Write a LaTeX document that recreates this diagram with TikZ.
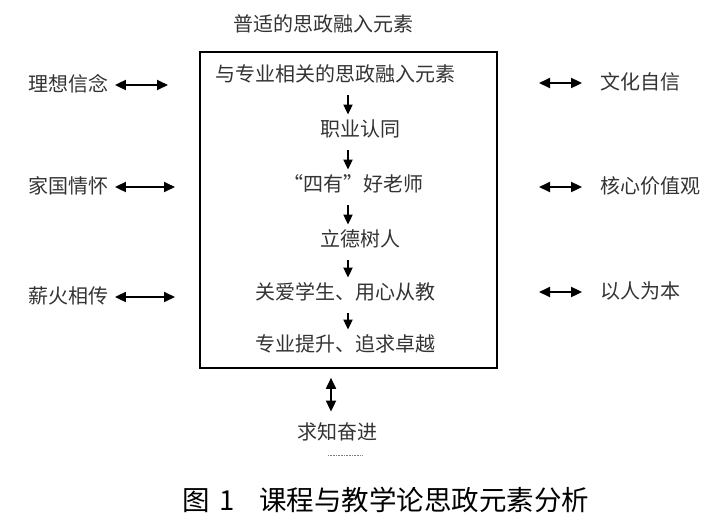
\documentclass[tikz,border=0pt]{standalone}
\usepackage{fontspec}
\setmainfont{Noto Sans CJK SC}
\usetikzlibrary{arrows.meta,positioning}

\begin{document}
\begin{tikzpicture}[x=1pt,y=-1pt,>={Triangle[length=11pt,width=10pt]},line width=1.8pt,
  item node/.style={font=\fontsize{20}{24}\selectfont,text=black!80,inner sep=0pt,text height=16pt,text depth=3pt},
  side node/.style={item node},
  caption node/.style={font=\fontsize{27.5}{32}\selectfont,inner sep=0pt}]

  \useasboundingbox (0,0) rectangle (727,531);

  \node[item node] (top) at (323,25) {普适的思政融入元素};
  \node[draw,line width=1.6pt,minimum width=297pt,minimum height=316pt,inner sep=0pt] (frame) at (348.5,210) {};

  % chain inside the frame
  \node[item node] (e0) at (335,75) {与专业相关的思政融入元素};
  \node[item node] (e1) at (360,130) {职业认同};
  \node[item node] (e2) at (353,185) {“四有”好老师};
  \node[item node] (e3) at (360,240) {立德树人};
  \node[item node] (e4) at (345,293) {关爱学生、用心从教};
  \node[item node] (e5) at (345,345) {专业提升、追求卓越};
  \coordinate (axis) at (348,0);
  \foreach \a/\b in {e0/e1,e1/e2,e2/e3,e3/e4,e4/e5}
    \draw[->,>={Triangle[length=10pt,width=9pt]},shorten <=10pt,shorten >=5pt] (\a.south -| axis) -- (\b.north -| axis);

  % left and right
  \foreach \n/\t/\y/\e in {l1/理想信念/85/168,l2/家国情怀/187/175,l3/薪火相传/297/175} {
    \node[side node] (\n) at (68,\y) {\t};
    \coordinate (\n-end) at (\e,\y);
    \draw[<->,shorten <=6pt] (\n.east) -- (\n-end);
  }
  \foreach \n/\t/\x/\y in {r1/文化自信/640/83,r2/核心价值观/650/187,r3/以人为本/640/292} {
    \node[side node] (\n) at (\x,\y) {\t};
    \coordinate (\n-end) at (539,\y);
    \draw[<->,shorten >=17pt] (\n-end) -- (\n.west);
  }

  % below the frame
  \node[item node] (qz) at (337,433) {求知奋进};
  \draw[<->,shorten <=9pt,shorten >=11pt] ([xshift=-17.5pt]frame.south) -- ([xshift=-6pt]qz.north);
  \draw[densely dotted,line width=0.6pt,black!50] ([shift={(-9,12)}]qz.south) -- ++(35,0);

  \node[caption node] (cap) at (386,500) {图\,\,1\hspace{0.9em}课程与教学论思政元素分析};
\end{tikzpicture}
\end{document}
